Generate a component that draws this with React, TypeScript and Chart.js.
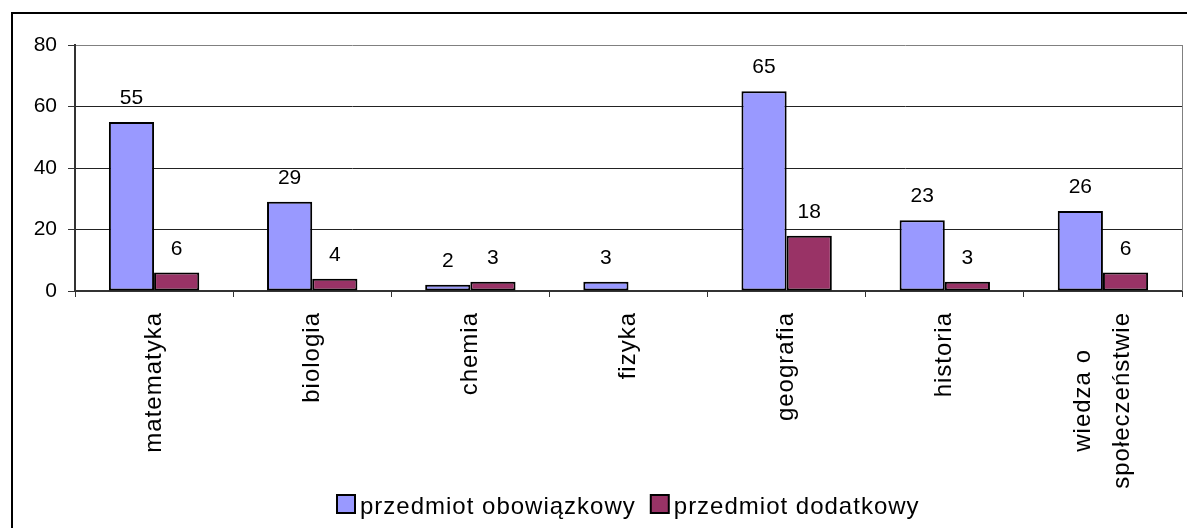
import { useEffect, useRef } from "react";
import { Chart, registerables } from "chart.js";

Chart.register(...registerables);

const categories: string[][] = [
  ["matematyka"],
  ["biologia"],
  ["chemia"],
  ["fizyka"],
  ["geografia"],
  ["historia"],
  ["wiedza o", "społeczeństwie"],
];
const seriesNames = ["przedmiot obowiązkowy", "przedmiot dodatkowy"];
const obowiazkowy: (number | null)[] = [55, 29, 2, 3, 65, 23, 26];
const dodatkowy: (number | null)[] = [6, 4, 3, null, 18, 3, 6];
const yTicks = [0, 20, 40, 60, 80];
const seriesColors = ["#9999FF", "#993366"];

const FONT = "'Liberation Sans', Arial, sans-serif";
const W = 1187;
const H = 528;

const customPlugin = {
  id: "customDraw",
  beforeDraw(chart: any) {
    const ctx = chart.ctx;
    ctx.save();
    ctx.fillStyle = "#ffffff";
    ctx.fillRect(0, 0, chart.width, chart.height);
    ctx.strokeStyle = "#000000";
    ctx.lineWidth = 2;
    ctx.strokeRect(12, 13, chart.width + 40, chart.height + 40);
    ctx.restore();
  },
  beforeDatasetsDraw(chart: any) {
    const { ctx, chartArea } = chart;
    ctx.save();
    ctx.strokeStyle = "#808080";
    ctx.lineWidth = 1;
    ctx.beginPath();
    ctx.moveTo(chartArea.right + 0.5, chartArea.top);
    ctx.lineTo(chartArea.right + 0.5, chartArea.bottom);
    ctx.stroke();
    ctx.restore();
  },
  afterDatasetsDraw(chart: any) {
    const ctx = chart.ctx;
    ctx.save();
    ctx.font = `21px ${FONT}`;
    ctx.fillStyle = "#000000";
    ctx.textAlign = "center";
    ctx.textBaseline = "alphabetic";
    chart.data.datasets.forEach((ds: any, di: number) => {
      const meta = chart.getDatasetMeta(di);
      meta.data.forEach((el: any, i: number) => {
        const v = ds.data[i];
        if (v === null || v === undefined) return;
        ctx.fillText(String(v), el.x, el.y - 18);
      });
    });
    ctx.restore();
  },
  afterDraw(chart: any) {
    const { ctx, chartArea } = chart;
    const xScale = chart.scales.x;
    // category labels, rotated, each line centred like the original
    ctx.save();
    ctx.font = `24px ${FONT}`;
    (ctx as any).letterSpacing = "1px";
    ctx.fillStyle = "#000000";
    ctx.textBaseline = "middle";
    ctx.textAlign = "center";
    const lineH = 39;
    const top = chartArea.bottom + 21;
    categories.forEach((lines, i) => {
      const px = xScale.getPixelForValue(i);
      const maxW = Math.max(...lines.map((l) => ctx.measureText(l).width));
      ctx.save();
      ctx.translate(px, top);
      ctx.rotate(-Math.PI / 2);
      lines.forEach((l, j) => {
        const off = (j - (lines.length - 1) / 2) * lineH;
        ctx.fillText(l, -maxW / 2, off);
      });
      ctx.restore();
    });
    ctx.restore();

    // legend
    ctx.save();
    ctx.font = `24px ${FONT}`;
    (ctx as any).letterSpacing = "1px";
    ctx.textAlign = "left";
    ctx.textBaseline = "alphabetic";
    const box = 18;
    const gapText = 5;
    const gapItem = 15;
    const widths = seriesNames.map((n) => ctx.measureText(n).width);
    const total =
      widths.reduce((a, w) => a + box + gapText + w, 0) + gapItem * (seriesNames.length - 1);
    let x = Math.round((chartArea.left + chartArea.right) / 2 - total / 2);
    const boxTop = 495;
    seriesNames.forEach((n, i) => {
      ctx.fillStyle = seriesColors[i];
      ctx.fillRect(x, boxTop, box, box);
      ctx.strokeStyle = "#000000";
      ctx.lineWidth = 2;
      ctx.strokeRect(x, boxTop, box, box);
      ctx.fillStyle = "#000000";
      ctx.fillText(n, x + box + gapText, 514);
      x += box + gapText + widths[i] + gapItem;
    });
    ctx.restore();
  },
};

export default function App() {
  const ref = useRef<HTMLCanvasElement | null>(null);

  useEffect(() => {
    if (!ref.current) return;
    const chart = new Chart(ref.current, {
      type: "bar",
      data: {
        labels: categories.map((c) => c.join(" ")),
        datasets: [
          {
            label: seriesNames[0],
            data: obowiazkowy,
            backgroundColor: seriesColors[0],
            borderColor: "#000000",
            borderWidth: 2,
            borderSkipped: false,
          },
          {
            label: seriesNames[1],
            data: dodatkowy,
            backgroundColor: seriesColors[1],
            borderColor: "#000000",
            borderWidth: 2,
            borderSkipped: false,
          },
        ],
      },
      options: {
        responsive: false,
        animation: false,
        devicePixelRatio: 1,
        categoryPercentage: 2 / 3.5,
        barPercentage: 1,
        layout: { padding: { top: 45, left: 0, right: 5, bottom: 0 } },
        plugins: {
          legend: { display: false },
          tooltip: { enabled: false },
          title: { display: false },
        },
        scales: {
          x: {
            grid: {
              offset: true,
              drawOnChartArea: false,
              drawTicks: true,
              tickLength: 6,
              tickColor: "#333333",
              lineWidth: 1,
            },
            border: { display: true, color: "#333333", width: 2 },
            ticks: { display: false },
            afterFit: (s: any) => {
              s.height = H - 291;
            },
          },
          y: {
            min: yTicks[0],
            max: yTicks[yTicks.length - 1],
            ticks: {
              stepSize: yTicks[1] - yTicks[0],
              color: "#000000",
              font: { family: FONT, size: 21 },
              padding: 11,
            },
            grid: {
              color: (c: any) =>
                c.tick && c.tick.value === yTicks[yTicks.length - 1]
                  ? "#808080"
                  : c.tick && c.tick.value === 0
                  ? "rgba(0,0,0,0)"
                  : "#222222",
              tickColor: "#333333",
              tickLength: 7,
              lineWidth: 1,
            },
            border: { display: true, color: "#333333", width: 2 },
            afterFit: (s: any) => {
              s.width = 75;
            },
          },
        },
      },
      plugins: [customPlugin],
    });
    return () => chart.destroy();
  }, []);

  return (
    <div style={{ position: "absolute", left: 0, top: 0, width: W, height: H }}>
      <canvas ref={ref} width={W} height={H} style={{ display: "block" }} />
    </div>
  );
}
